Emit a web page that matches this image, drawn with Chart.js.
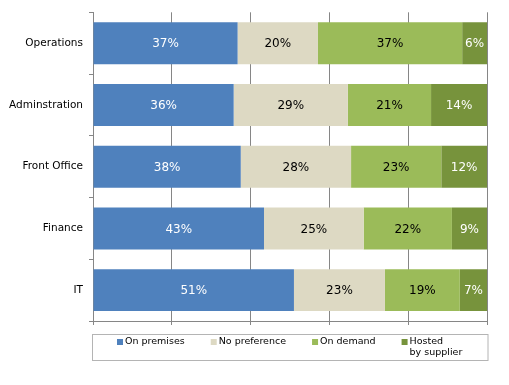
<!DOCTYPE html>
<html>
<head>
<meta charset="utf-8">
<script src="https://cdn.jsdelivr.net/npm/chart.js@4/dist/chart.umd.min.js"></script>
<style>
  html, body { margin: 0; padding: 0; background: #fff; }
  #wrap { width: 509px; height: 385px; }
</style>
</head>
<body>
<div id="wrap"><canvas id="chart"></canvas></div>
<script>
const categories = ['Operations', 'Adminstration', 'Front Office', 'Finance', 'IT'];
// shares in % (labels show them rounded)
const onPremises = [36.7, 35.7, 37.5, 43.4, 51.0];
const noPreference = [20.4, 29.0, 28.0, 25.3, 23.1];
const onDemand = [36.6, 21.1, 22.9, 22.4, 19.0];
const hostedBySupplier = [6.3, 14.2, 11.6, 8.9, 6.9];
const seriesLabels = ['On premises', 'No preference', 'On demand', ['Hosted', 'by supplier']];
const seriesColors = ['#4f81bd', '#ddd9c3', '#9bbb59', '#77933c'];
const labelColors = ['#ffffff', '#000000', '#000000', '#ffffff'];

const FONT = '"DejaVu Sans", Verdana, sans-serif';
const GRID = '#868686';

// value labels inside each bar segment
const barLabels = {
    id: 'barLabels',
    afterDatasetsDraw(chart) {
        const ctx = chart.ctx;
        ctx.save();
        ctx.font = '12px ' + FONT;
        ctx.textAlign = 'center';
        ctx.textBaseline = 'middle';
        chart.data.datasets.forEach((ds, i) => {
            const meta = chart.getDatasetMeta(i);
            meta.data.forEach((bar, j) => {
                const mid = (bar.x + bar.base) / 2;
                ctx.fillStyle = labelColors[i];
                ctx.fillText(Math.round(ds.data[j]) + '%', mid, bar.y + 1);
            });
        });
        ctx.restore();
    }
};

// boxed legend under the plot, multi-line labels allowed
const boxLegend = {
    id: 'boxLegend',
    afterDraw(chart) {
        const ctx = chart.ctx;
        const area = chart.chartArea;
        const top = area.bottom + 13;
        const height = 26;
        ctx.save();
        ctx.strokeStyle = '#b4b4b4';
        ctx.lineWidth = 1;
        ctx.strokeRect(area.left - 0.5, top + 0.5, area.right - area.left + 1.5, height);

        ctx.font = '9.5px ' + FONT;
        ctx.textBaseline = 'middle';
        ctx.textAlign = 'left';
        const gap = 26;
        const widths = chart.data.datasets.map(ds => {
            const lines = [].concat(ds.label);
            return 8 + Math.max(...lines.map(l => ctx.measureText(l).width));
        });
        const total = widths.reduce((a, b) => a + b, 0) + gap * (widths.length - 1);
        let x = Math.round((area.left + area.right) / 2 - total / 2);
        const y = top + 8;
        chart.data.datasets.forEach((ds, i) => {
            ctx.fillStyle = ds.backgroundColor;
            ctx.fillRect(x, y - 3, 6, 6);
            ctx.fillStyle = '#000';
            [].concat(ds.label).forEach((line, k) => {
                ctx.fillText(line, x + 8, y + k * 11);
            });
            x += widths[i] + gap;
        });
        ctx.restore();
    }
};

const seriesData = [onPremises, noPreference, onDemand, hostedBySupplier];

new Chart(document.getElementById('chart'), {
    type: 'bar',
    data: {
        labels: categories,
        datasets: seriesData.map((d, i) => ({
            label: seriesLabels[i],
            data: d,
            backgroundColor: seriesColors[i],
            borderWidth: 0,
            barPercentage: 0.68,
            categoryPercentage: 1
        }))
    },
    options: {
        indexAxis: 'y',
        responsive: true,
        maintainAspectRatio: false,
        animation: false,
        layout: {
            padding: { top: 11, right: 22, bottom: 60, left: 0 }
        },
        scales: {
            x: {
                stacked: true,
                min: 0,
                max: 100,
                ticks: { display: false, stepSize: 20 },
                grid: { color: GRID, tickLength: 4, drawTicks: true },
                border: { color: GRID }
            },
            y: {
                stacked: true,
                afterFit(scale) { scale.width = 93; },
                ticks: {
                    color: '#000',
                    padding: 6,
                    font: { family: FONT, size: 10.5 }
                },
                grid: { offset: true, drawOnChartArea: false, color: GRID, tickLength: 4 },
                border: { color: GRID }
            }
        },
        plugins: {
            legend: { display: false },
            tooltip: { enabled: false }
        }
    },
    plugins: [barLabels, boxLegend]
});
</script>
</body>
</html>
